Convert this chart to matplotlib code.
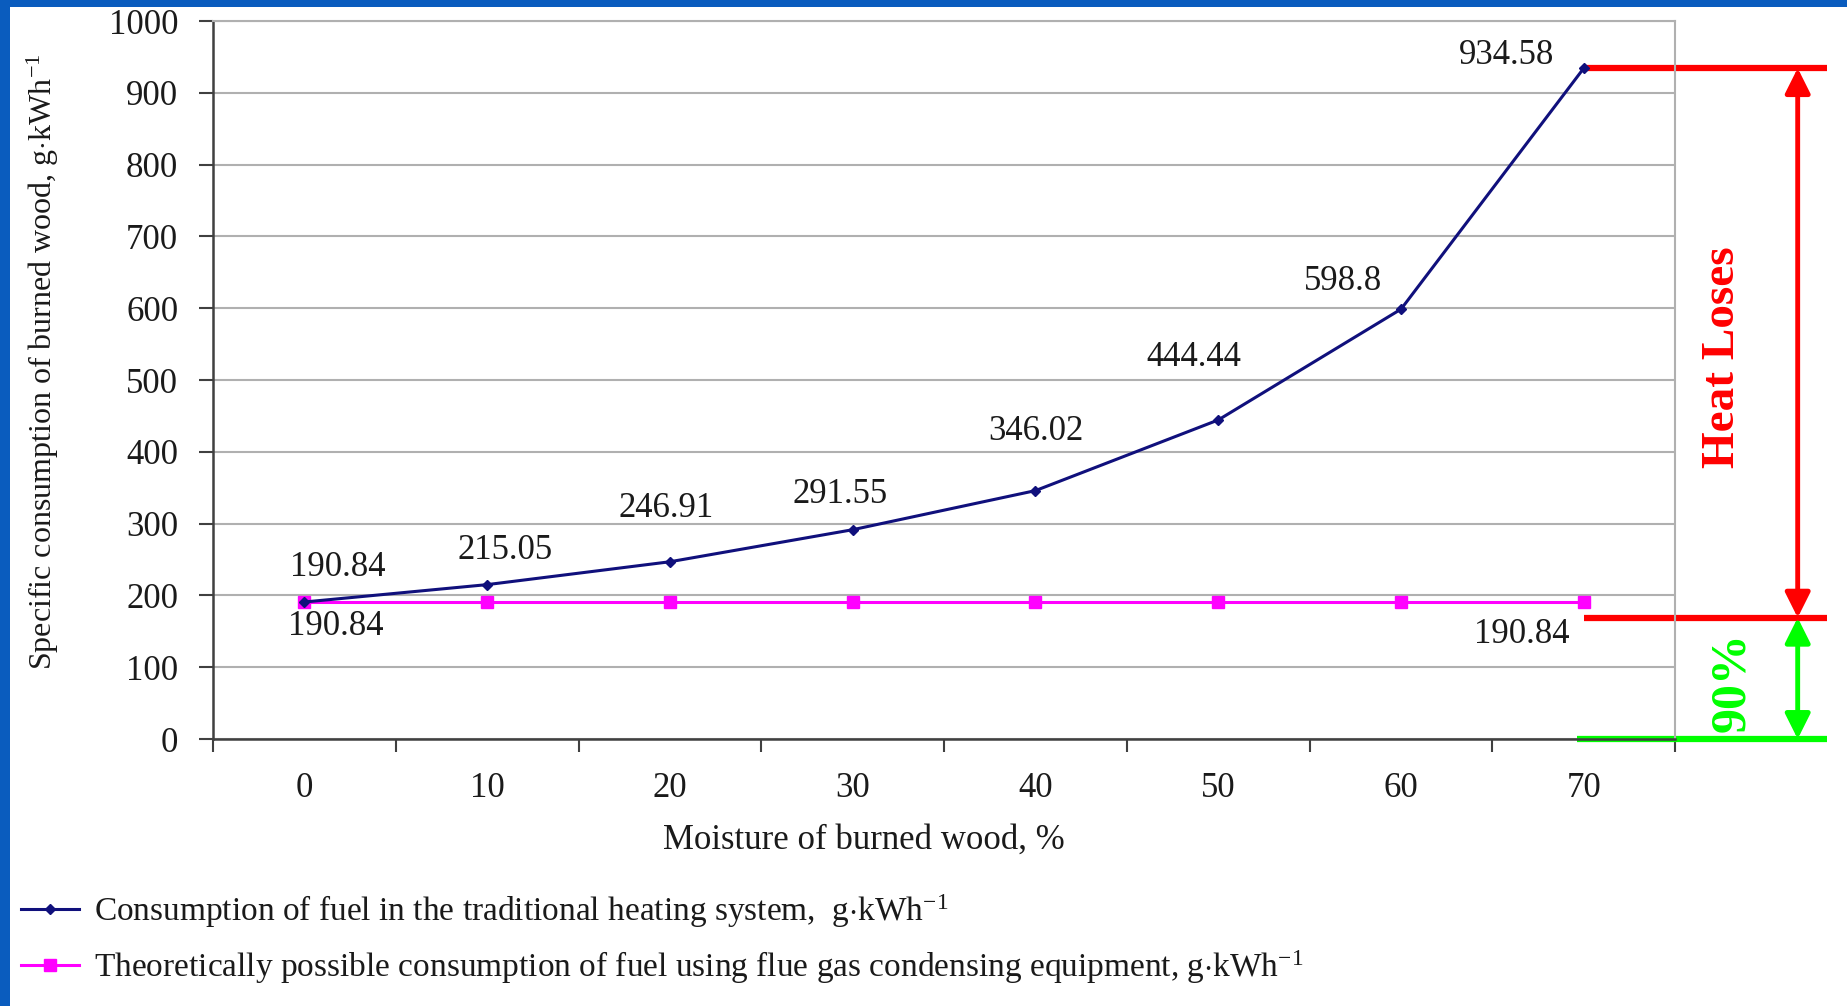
import numpy as np
import matplotlib
matplotlib.use("Agg")
import matplotlib.pyplot as plt
from matplotlib.patches import Rectangle
from matplotlib.lines import Line2D

plt.rcParams['font.family'] = ['Liberation Serif', 'DejaVu Serif']
plt.rcParams['mathtext.fontset'] = 'custom'
plt.rcParams['mathtext.rm'] = 'Liberation Serif'
plt.rcParams['mathtext.it'] = 'Liberation Serif:italic'

# donnees
moisture = ["0", "10", "20", "30", "40", "50", "60", "70"]
traditional = [190.84, 215.05, 246.91, 291.55, 346.02, 444.44, 598.8, 934.58]
condensing = [190.84, 190.84, 190.84, 190.84, 190.84, 190.84, 190.84, 190.84]
yticks = [0, 100, 200, 300, 400, 500, 600, 700, 800, 900, 1000]

# decalage des etiquettes (pixels) comme sur l'original
trad_offsets = [(33, 35), (18, 34), (-4, 53), (-13, 35), (0, 59), (-24, 62), (-58, 28), (-77, 13)]
cond_label_idx = [0, 7]
cond_offsets = [(31, -24), (-62, -32)]

lower_mark = 169  # trait rouge du bas (annotation)

NAVY = '#10107c'
MAGENTA = '#ff00ff'
RED = '#ff0000'
GREEN = '#00ff00'
TXT = '#1a1a1a'
FS = 25

fig = plt.figure(figsize=(18.47, 10.06), dpi=100)
fig.patch.set_facecolor('#0a5cbe')
fig.add_artist(Rectangle((10 / 1847, 0), 1, 1 - 7 / 1006, transform=fig.transFigure,
                         facecolor='white', edgecolor='none', zorder=-10))

ax = fig.add_axes([0.1153, 0.2654, 0.7917, 0.7136])
ax.set_facecolor('white')
x = np.arange(len(moisture))

ax.plot(x, traditional, color=NAVY, lw=2.2, marker='D', ms=5, zorder=4)
ax.plot(x, condensing, color=MAGENTA, lw=2.2, marker='s', ms=8, zorder=3)

for i, (v, (dx, dy)) in enumerate(zip(traditional, trad_offsets)):
    ax.annotate(f"{v:g}", (i, v), xytext=(dx, dy), textcoords='offset pixels',
                ha='center', va='center', fontsize=FS, color=TXT)
for i, (dx, dy) in zip(cond_label_idx, cond_offsets):
    ax.annotate(f"{condensing[i]:g}", (i, condensing[i]), xytext=(dx, dy),
                textcoords='offset pixels', ha='center', va='center', fontsize=FS,
                color=TXT)

ax.set_xlim(-0.5, len(moisture) - 0.5)
ax.set_ylim(0, 1000)
ax.set_yticks(yticks)
ax.yaxis.grid(True, color='#b0b0b0', lw=1.5)
ax.set_axisbelow(True)
ax.set_xticks(np.arange(-0.5, len(moisture)), labels=[])
ax.set_xticks(x, labels=moisture, minor=True)
ax.tick_params(axis='x', which='major', length=9, width=1.5, color='#404040')
ax.tick_params(axis='x', which='minor', length=0, pad=24, labelsize=FS, labelcolor=TXT)
ax.tick_params(axis='y', length=10, width=1.5, color='#404040', pad=15, labelsize=FS,
               labelcolor=TXT)
for side in ['left', 'bottom']:
    ax.spines[side].set_color('#404040')
    ax.spines[side].set_linewidth(1.8)
for side in ['top', 'right']:
    ax.spines[side].set_color('#b0b0b0')
    ax.spines[side].set_linewidth(1.5)

ax.set_xlabel("Moisture of burned wood, %", fontsize=FS, color=TXT)
ax.xaxis.set_label_coords(0.445, -0.118)
ax.set_ylabel(r"Specific consumption of burned wood, g$\cdot$kWh$^{-1}$", fontsize=23,
              color=TXT)
ax.yaxis.set_label_coords(-0.104, 0.525)

# annotations pertes de chaleur
top = traditional[-1]
ax.plot([7.0, 8.33], [top, top], color=RED, lw=4.5, clip_on=False, solid_capstyle='butt')
ax.plot([7.0, 8.33], [lower_mark, lower_mark], color=RED, lw=4.5, clip_on=False,
        solid_capstyle='butt')
ax.plot([6.96, 8.33], [0, 0], color=GREEN, lw=4.5, clip_on=False, solid_capstyle='butt')
ax.annotate("", xy=(8.17, top), xytext=(8.17, lower_mark), annotation_clip=False,
            arrowprops=dict(arrowstyle='<|-|>', color=RED, lw=3.5, mutation_scale=38,
                            shrinkA=0, shrinkB=0))
ax.annotate("", xy=(8.17, lower_mark), xytext=(8.17, 0), annotation_clip=False,
            arrowprops=dict(arrowstyle='<|-|>', color=GREEN, lw=3.5, mutation_scale=38,
                            shrinkA=0, shrinkB=0))
ax.text(7.76, 532, "Heat Loses", rotation=90, color=RED, fontsize=34, fontweight='bold',
        ha='center', va='center', clip_on=False)
ax.text(7.81, 79, "90%", rotation=90, color=GREEN, fontsize=36, fontweight='bold',
        ha='center', va='center', clip_on=False)

handles = [Line2D([], [], color=NAVY, lw=2.2, marker='D', ms=5),
           Line2D([], [], color=MAGENTA, lw=2.2, marker='s', ms=8)]
labels = [r"Consumption of fuel in the traditional heating system,  g$\cdot$kWh$^{-1}$",
          r"Theoretically possible consumption of fuel using flue gas condensing equipment, g$\cdot$kWh$^{-1}$"]
fig.legend(handles, labels, loc='upper left', bbox_to_anchor=(0.0114, 0.113), frameon=False,
           fontsize=24, handlelength=1.75, handletextpad=0.45, labelspacing=0.55,
           borderpad=0, borderaxespad=0, numpoints=1, labelcolor=TXT)

fig.savefig("out.png", dpi=100, facecolor=fig.get_facecolor())
